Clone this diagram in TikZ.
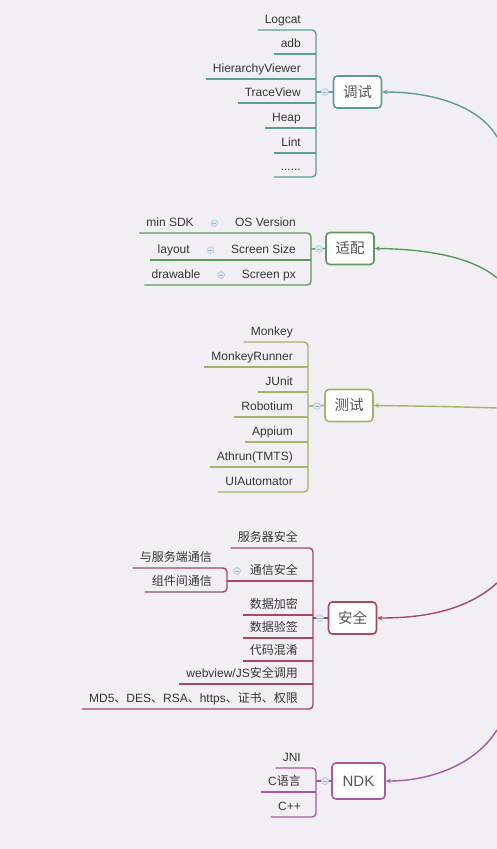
\documentclass[tikz,border=0pt]{standalone}
\usepackage{fontspec}
\setmainfont{Liberation Sans}
\newfontfamily\cjk{Noto Sans CJK SC}
\usetikzlibrary{arrows.meta,calc}
\definecolor{bgc}{HTML}{F1EFF4}
\definecolor{leafc}{HTML}{353535}
\definecolor{topc}{HTML}{555555}
\definecolor{tealc}{HTML}{5A9E92}
\definecolor{greenc}{HTML}{5C9A5E}
\definecolor{olivec}{HTML}{A3B368}
\definecolor{maroonc}{HTML}{A5495E}
\definecolor{purplec}{HTML}{A8589F}
\definecolor{foldc}{HTML}{B4CBE0}
\definecolor{foldf}{HTML}{DDE8F2}
\definecolor{foldm}{HTML}{9DB6CF}
\begin{document}
\begin{tikzpicture}[x=1pt,y=-1pt,
 leaf/.style={font=\fontsize{12}{14}\selectfont, text=leafc, inner xsep=7pt, inner ysep=4pt, text height=8.8pt, text depth=2.6pt, anchor=south east},
 topic/.style={draw=#1, line width=1.6pt, rounded corners=4pt, fill=white, text=topc, font=\cjk\fontsize{14.5}{16}\selectfont, minimum width=48pt, minimum height=32pt, inner sep=0pt},
 br/.style={draw=#1, line width=1.4pt, rounded corners=4pt},
 fold/.style={circle, draw=foldc, fill=foldf, line width=0.6pt, minimum size=7pt, inner sep=0pt, path picture={\draw[foldm, line width=0.6pt] ([xshift=-2pt]path picture bounding box.center) -- ([xshift=2pt]path picture bounding box.center);}},
 arr/.style={draw=#1, line width=1.4pt, -{Stealth[length=5pt,width=4.5pt]}}
]
\useasboundingbox (0,0) rectangle (497,849);
\fill[bgc] (0,0) rectangle (497,849);

% ---------- 调试 ----------
\node[leaf] (d1) at (308,30) {Logcat};
\node[leaf] (d2) at (308,54) {adb};
\node[leaf] (d3) at (308,79) {HierarchyViewer};
\node[leaf] (d4) at (308,103) {TraceView};
\node[leaf] (d5) at (308,128) {Heap};
\node[leaf] (d6) at (308,153) {Lint};
\node[leaf] (d7) at (308,177) {......};
\draw[br=tealc] (d1.south west) -- (316,30) -- (316,177) -- (d7.south west);
\foreach \n/\y in {d2/54,d3/79,d4/103,d5/128,d6/153} \draw[br=tealc] (\n.south west) -- (316,\y);
\node[topic=tealc] (dbg) at (357.5,92) {调试};
\draw[br=tealc] (316,92) -- (dbg.west);
\node[fold] (f1) at (325,92) {};
\coordinate (cd) at (497,137);
\draw[arr=tealc] (cd) .. controls (482,110) and (440,92) .. (dbg.east);

% ---------- 适配 ----------
\node[leaf] (a1) at (303,233) {OS Version};
\node[leaf] (a1s) at ($(a1.south west)+(-27,0)$) {min SDK};
\node[leaf] (a2) at (303,260) {Screen Size};
\node[leaf] (a2s) at ($(a2.south west)+(-27,0)$) {layout};
\node[leaf] (a3) at (303,285) {Screen px};
\node[leaf] (a3s) at ($(a3.south west)+(-27,0)$) {drawable};
\node[fold] (fa1) at ($(a1s.east)!0.5!(a1.west)$) {};
\node[fold] (fa2) at ($(a2s.east)!0.5!(a2.west)$) {};
\node[fold] (fa3) at ($(a3s.east)!0.5!(a3.west)$) {};
\draw[br=greenc] (a1s.south west) -- (311,233) -- (311,285) -- (a3s.south west);
\draw[br=greenc] (a2s.south west) -- (311,260);
\node[topic=greenc] (ad) at (350,248.5) {适配};
\draw[br=greenc] (311,249) -- (ad.west);
\node[fold] (f2) at (319,249) {};
\coordinate (ca) at (497,278);
\draw[arr=greenc] (ca) .. controls (470,255) and (420,249) .. (ad.east);

% ---------- 测试 ----------
\node[leaf] (t1) at (300,342) {Monkey};
\node[leaf] (t2) at (300,367) {MonkeyRunner};
\node[leaf] (t3) at (300,392) {JUnit};
\node[leaf] (t4) at (300,417) {Robotium};
\node[leaf] (t5) at (300,442) {Appium};
\node[leaf] (t6) at (300,467) {Athrun(TMTS)};
\node[leaf] (t7) at (300,492) {UIAutomator};
\draw[br=olivec] (t1.south west) -- (308,342) -- (308,492) -- (t7.south west);
\foreach \n/\y in {t2/367,t3/392,t4/417,t5/442,t6/467} \draw[br=olivec] (\n.south west) -- (308,\y);
\node[topic=olivec] (ts) at (349,405.5) {测试};
\draw[br=olivec] (308,406) -- (ts.west);
\node[fold] (f3) at (317,406) {};
\coordinate (ct) at (497,408);
\draw[arr=olivec] (ct) .. controls (470,407) and (420,406) .. (ts.east);

% ---------- 安全 ----------
\node[leaf] (s1) at (305,548) {\cjk 服务器安全};
\node[leaf] (s2) at (305,581) {\cjk 通信安全};
\node[leaf] (s2a) at (219,568) {\cjk 与服务端通信};
\node[leaf] (s2b) at (219,592) {\cjk 组件间通信};
\node[leaf] (s3) at (305,615) {\cjk 数据加密};
\node[leaf] (s4) at (305,638) {\cjk 数据验签};
\node[leaf] (s5) at (305,661) {\cjk 代码混淆};
\node[leaf] (s6) at (305,684) {webview/JS{\cjk 安全调用}};
\node[leaf] (s7) at (305,709) {MD5{\cjk 、}DES{\cjk 、}RSA{\cjk 、}https{\cjk 、证书、权限}};
\draw[br=maroonc] (s2a.south west) -- (227,568) -- (227,592) -- (s2b.south west);
\draw[br=maroonc] (227,581) -- (313,581);
\node[fold] (fs2) at (237,571) {};
\draw[br=maroonc] (s1.south west) -- (313,548) -- (313,709) -- (s7.south west);
\foreach \n/\y in {s3/615,s4/638,s5/661,s6/684} \draw[br=maroonc] (\n.south west) -- (313,\y);
\node[topic=maroonc] (aq) at (352.5,618) {安全};
\draw[br=maroonc] (313,618) -- (aq.west);
\node[fold] (f4) at (320,618) {};
\coordinate (cs) at (497,583);
\draw[arr=maroonc] (cs) .. controls (465,612) and (420,618) .. (aq.east);

% ---------- NDK ----------
\node[leaf] (n1) at (308,768) {JNI};
\node[leaf] (n2) at (308,792) {C{\cjk 语言}};
\node[leaf] (n3) at (308,817) {C++};
\draw[br=purplec] (n1.south west) -- (316,768) -- (316,817) -- (n3.south west);
\draw[br=purplec] (n2.south west) -- (316,792);
\node[topic=purplec, font=\fontsize{15}{17}\selectfont, minimum width=53pt, minimum height=36pt] (ndk) at (358.5,781) {NDK};
\draw[br=purplec] (316,781) -- (ndk.west);
\node[fold] (f5) at (325,781) {};
\coordinate (cn) at (497,730);
\draw[arr=purplec] (cn) .. controls (475,765) and (430,781) .. (ndk.east);
\end{tikzpicture}
\end{document}
